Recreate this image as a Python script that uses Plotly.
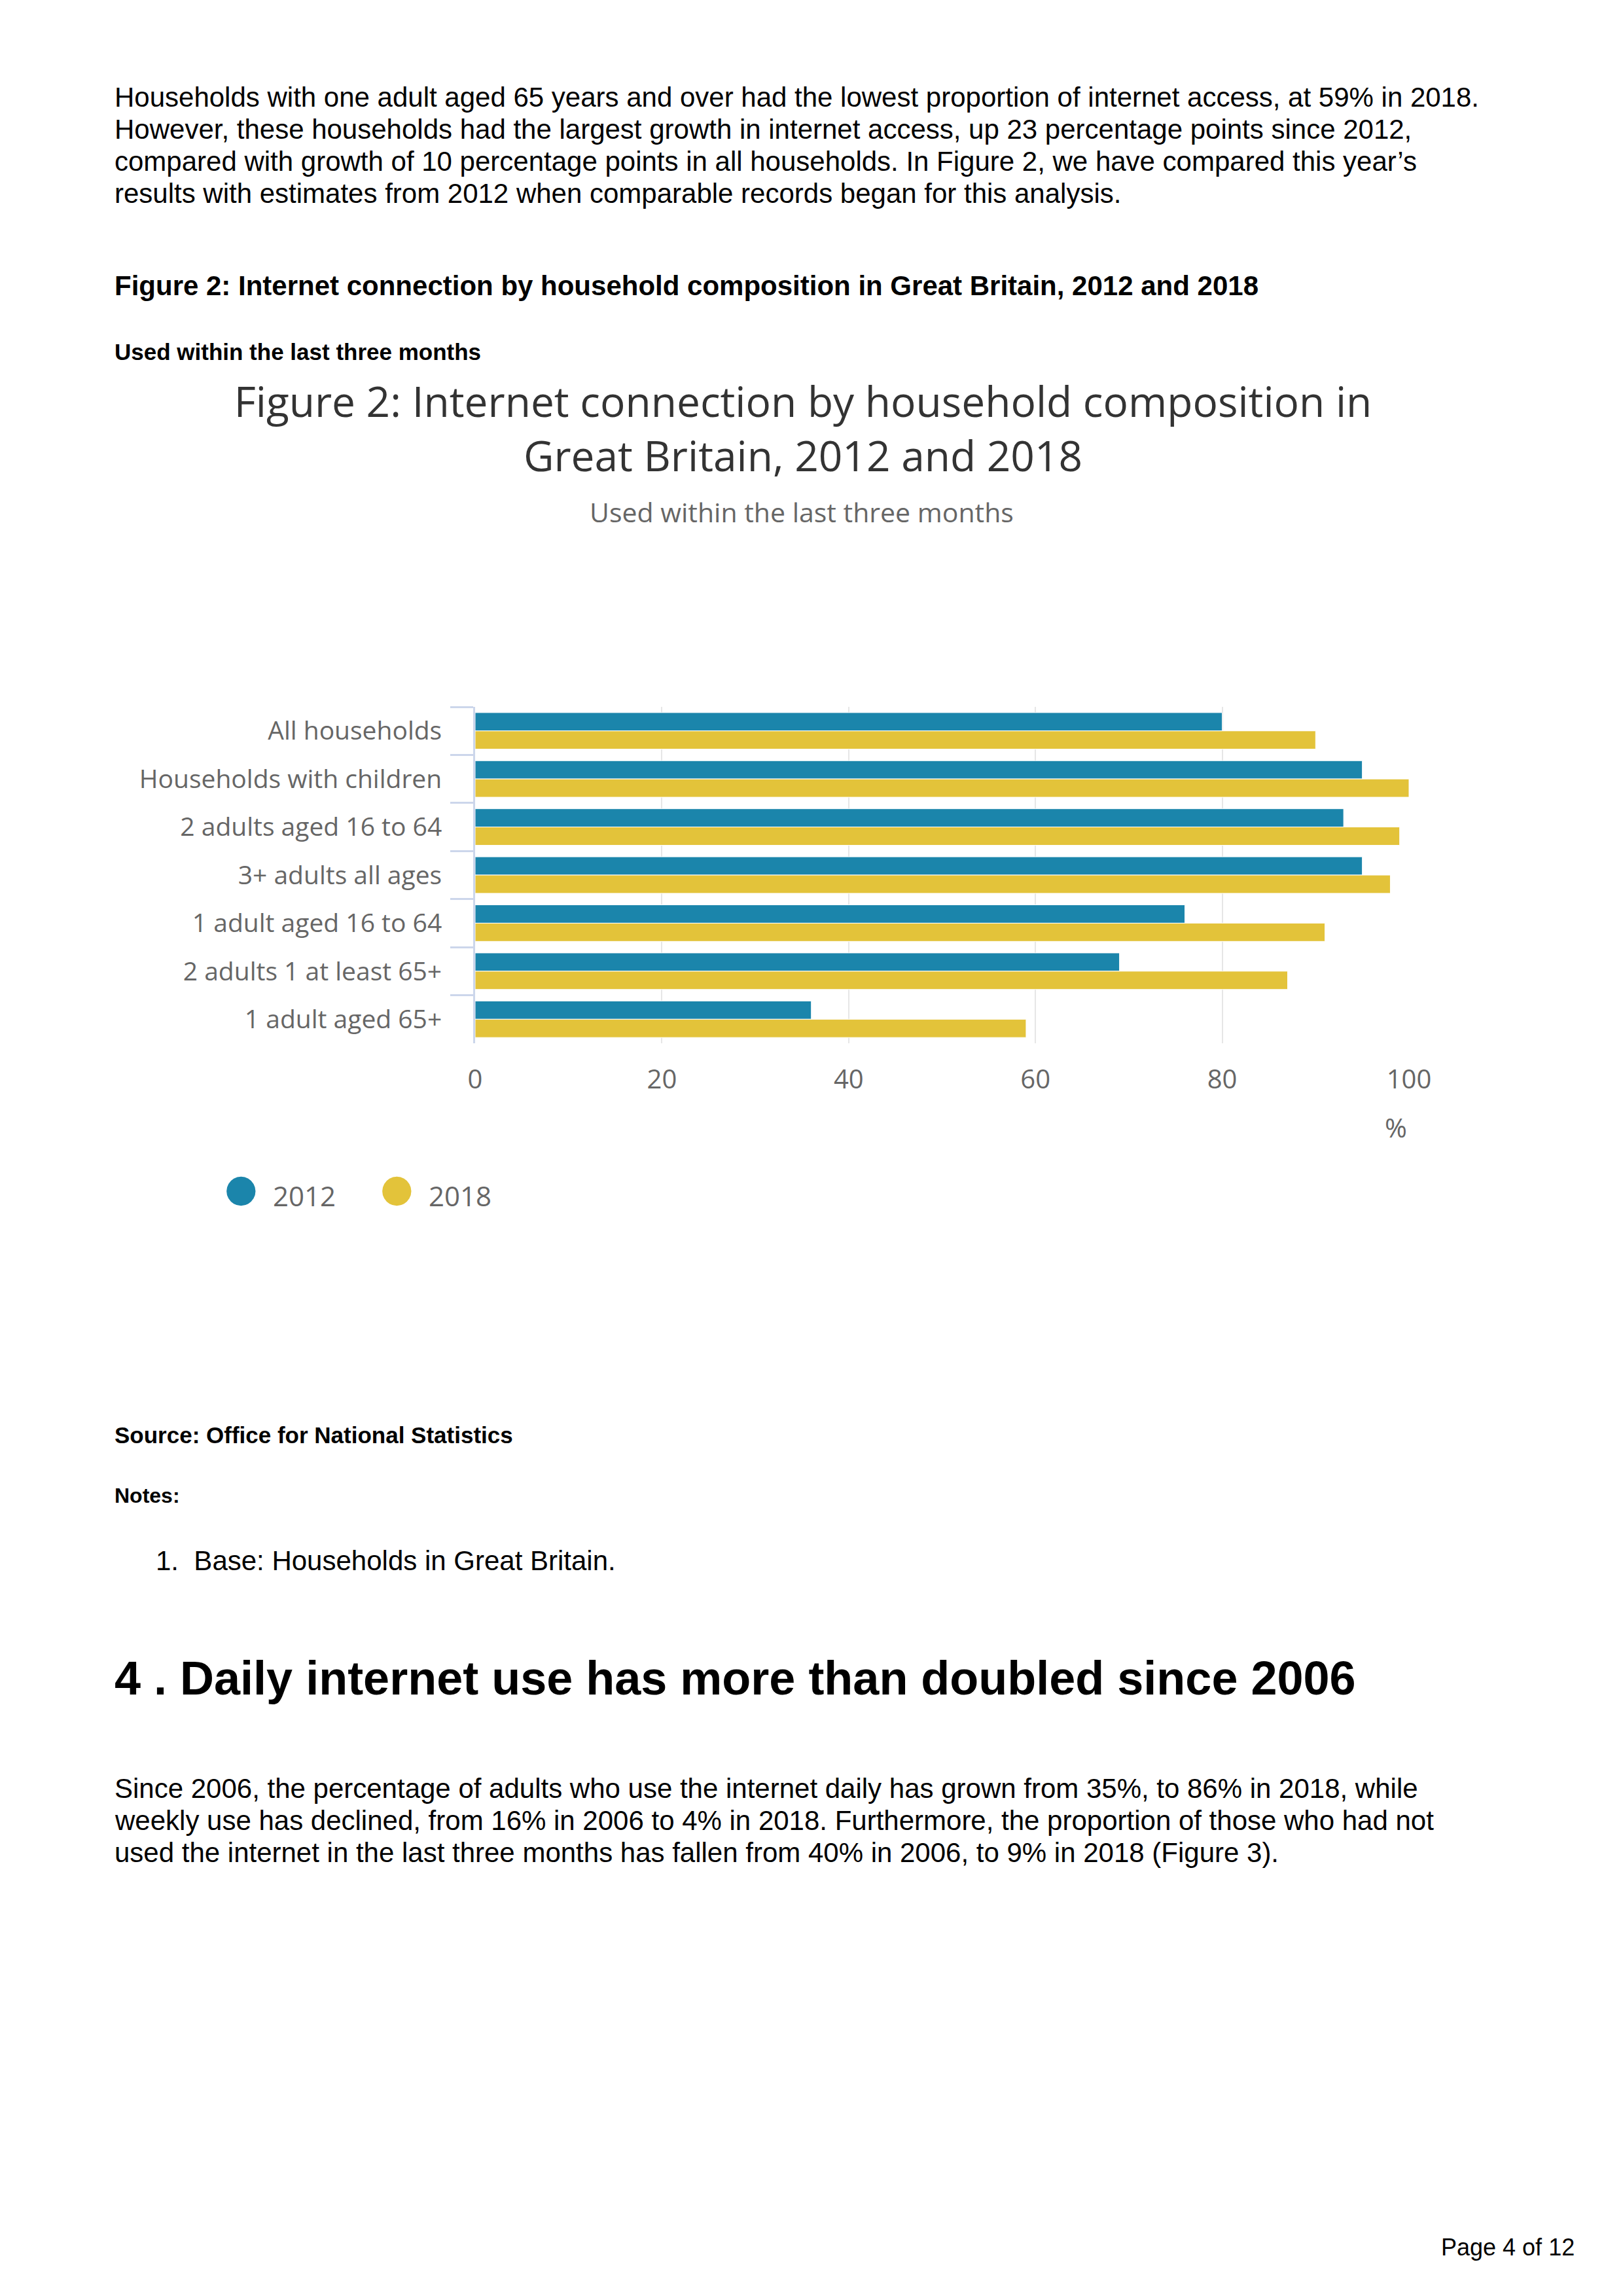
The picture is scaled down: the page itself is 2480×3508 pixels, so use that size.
import plotly.graph_objects as go

categories = ["All households", "Households with children", "2 adults aged 16 to 64",
              "3+ adults all ages", "1 adult aged 16 to 64", "2 adults 1 at least 65+",
              "1 adult aged 65+"]
values_2012 = [80, 95, 93, 95, 76, 69, 36]
values_2018 = [90, 100, 99, 98, 91, 87, 59]
series_names = ["2012", "2018"]
colors = ["#1b85ab", "#e3c33a"]
x_ticks = [0, 20, 40, 60, 80, 100]

W, H = 2480, 3508
OFF = 8  # browser body margin
L, R, T, B = 726 - OFF, 2153 - OFF, 1080 - OFF, 1594 - OFF


def px(x):
    return (x - OFF - L) / (R - L)


def py(y):
    return 1 - (y - OFF - T) / (B - T)


fig = go.Figure()
for name, vals, col in zip(series_names, [values_2012, values_2018], colors):
    fig.add_trace(go.Bar(
        y=categories, x=vals, name=name, orientation="h",
        marker=dict(color=col, line=dict(color="#ffffff", width=1)),
        showlegend=False,
    ))

body = "Liberation Sans, Arial, sans-serif"
chart_font = "Open Sans"

annotations = []


def txt(text, x, y, size, color="#000000", bold=False, family=body, xanchor="left"):
    if bold:
        text = "<b>" + text + "</b>"
    annotations.append(dict(
        text=text, x=px(x), y=py(y), xref="paper", yref="paper",
        xanchor=xanchor, yanchor="middle", showarrow=False,
        font=dict(size=size, color=color, family=family),
    ))


para1 = [
    "Households with one adult aged 65 years and over had the lowest proportion of internet access, at 59% in 2018.",
    "However, these households had the largest growth in internet access, up 23 percentage points since 2012,",
    "compared with growth of 10 percentage points in all households. In Figure 2, we have compared this year\u2019s",
    "results with estimates from 2012 when comparable records began for this analysis.",
]
for i, line in enumerate(para1):
    txt(line, 173, 148 + i * 49.3, 42)

txt("Figure 2: Internet connection by household composition in Great Britain, 2012 and 2018", 173, 436, 42, bold=True)
txt("Used within the last three months", 173, 537, 35, bold=True)

# chart subtitle
txt("Used within the last three months", 1225, 782, 41, color="#666666", family=chart_font, xanchor="center")

# x axis unit
txt("%", 2152, 1722, 41, color="#666666", family=chart_font, xanchor="right")

# legend
for name, col, cx, tx in zip(series_names, colors, [368, 606], [415, 653]):
    txt("\u25cf", cx, 1815, 58, color=col, family="DejaVu Sans", xanchor="center")
    txt(name, tx, 1826, 42, color="#666666", family=chart_font)

txt("Source: Office for National Statistics", 173, 2192, 35, bold=True)
txt("Notes:", 173, 2285, 32, bold=True)
txt("1.  Base: Households in Great Britain.", 236, 2384, 42)
txt("4 . Daily internet use has more than doubled since 2006", 173, 2564, 72, bold=True)

para2 = [
    "Since 2006, the percentage of adults who use the internet daily has grown from 35%, to 86% in 2018, while",
    "weekly use has declined, from 16% in 2006 to 4% in 2018. Furthermore, the proportion of those who had not",
    "used the internet in the last three months has fallen from 40% in 2006, to 9% in 2018 (Figure 3).",
]
for i, line in enumerate(para2):
    txt(line, 173, 2732 + i * 49.3, 42)

txt("Page 4 of 12", 2408, 3433, 36, xanchor="right")

fig.update_layout(
    width=W, height=H,
    margin=dict(l=L, r=W - R, t=T, b=H - B, pad=0),
    paper_bgcolor="#ffffff", plot_bgcolor="#ffffff",
    barmode="group", bargap=0.24, bargroupgap=0,
    title=dict(
        text="Figure 2: Internet connection by household composition in<br>Great Britain, 2012 and 2018",
        x=(1227 - OFF) / W, xanchor="center", xref="container",
        y=1 - (637 - OFF) / H, yanchor="middle", yref="container",
        font=dict(family=chart_font, size=64, color="#333333"),
    ),
    xaxis=dict(
        range=[0, 100], tickvals=x_ticks, showgrid=True, gridcolor="#e6e6e6", gridwidth=2,
        zeroline=False, showline=False, ticks="",
        tickfont=dict(family=chart_font, size=40, color="#666666"),
        ticklabelstandoff=28,
    ),
    yaxis=dict(
        type="category", autorange="reversed", showgrid=False, zeroline=False,
        showline=True, linecolor="#ccd6eb", linewidth=3,
        ticks="outside", ticklen=35, tickwidth=3, tickcolor="#ccd6eb", tickson="boundaries",
        tickfont=dict(family=chart_font, size=39, color="#666666"),
        ticklabelstandoff=40,
    ),
    annotations=annotations,
)

fig.write_html("out.html")
